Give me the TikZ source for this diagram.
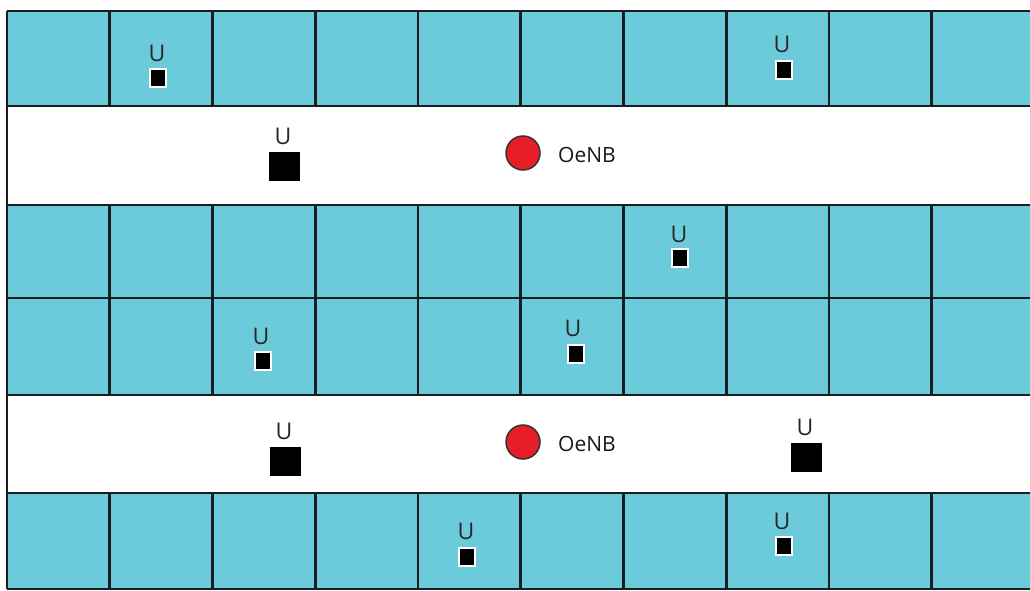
\documentclass[tikz,border=0pt]{standalone}
\usepackage{fontspec}
\setmainfont{Open Sans}
\definecolor{cellcyan}{RGB}{108,203,219}
\definecolor{gridline}{RGB}{24,30,32}
\definecolor{oenbred}{RGB}{232,30,38}
\begin{document}
\begin{tikzpicture}[x=1pt,y=-1pt,
  gridl/.style={draw=gridline,line width=2.8pt},
  smallsq/.style={rectangle,fill=black,draw=white,line width=2pt,minimum width=16pt,minimum height=18pt,inner sep=0pt},
  bigsq/.style={rectangle,fill=black,minimum width=31pt,minimum height=29pt,inner sep=0pt},
  ulabel/.style={inner sep=0pt,anchor=base,font=\fontsize{23}{23}\selectfont,text=black!85},
  bank/.style={circle,fill=oenbred,draw=black!80,line width=1.5pt,minimum size=34pt,inner sep=0pt},
  banklabel/.style={inner sep=0pt,anchor=base west,font=\fontsize{21}{21}\selectfont,text=black!90}]
\path[use as bounding box,fill=white] (0,0) rectangle (1030,591);
% cyan rows
\fill[cellcyan] (7,11) rectangle (1030,106);
\fill[cellcyan] (7,205) rectangle (1030,395);
\fill[cellcyan] (7,493) rectangle (1030,589);
% horizontal lines
\foreach \y in {11,106,205,298,395,493,589}
  \draw[gridl] (7,\y) -- (1030,\y);
% left border
\draw[gridl] (7,11) -- (7,589);
% vertical lines in cyan rows
\foreach \k in {1,...,9}{
  \draw[gridl] ({7+102.75*\k},11) -- ({7+102.75*\k},106);
  \draw[gridl] ({7+102.75*\k},205) -- ({7+102.75*\k},395);
  \draw[gridl] ({7+102.75*\k},493) -- ({7+102.75*\k},589);
}
% small squares with labels
\node[smallsq] (s1) at (158,78) {};
\node[ulabel] (u1) at (157,62) {U};
\node[smallsq] (s2) at (784,70) {};
\node[ulabel] (u2) at (782,53) {U};
\node[smallsq] (s3) at (680,258) {};
\node[ulabel] (u3) at (679,242) {U};
\node[smallsq] (s4) at (263,361) {};
\node[ulabel] (u4) at (261,344) {U};
\node[smallsq] (s5) at (576,354) {};
\node[ulabel] (u5) at (573,336) {U};
\node[smallsq] (s6) at (467,557) {};
\node[ulabel] (u6) at (466,539) {U};
\node[smallsq] (s7) at (784,546) {};
\node[ulabel] (u7) at (782,529) {U};
% big squares with labels
\node[bigsq] (b1) at (284,166) {};
\node[ulabel] (bu1) at (283,145) {U};
\node[bigsq] (b2) at (285,461) {};
\node[ulabel] (bu2) at (284,439) {U};
\node[bigsq] (b3) at (806,457) {};
\node[ulabel] (bu3) at (805,435) {U};
% OeNB
\node[bank] (c1) at (523,153) {};
\node[banklabel] (t1) at (558,162) {OeNB};
\node[bank] (c2) at (523,442) {};
\node[banklabel] (t2) at (558,451) {OeNB};
\end{tikzpicture}
\end{document}
